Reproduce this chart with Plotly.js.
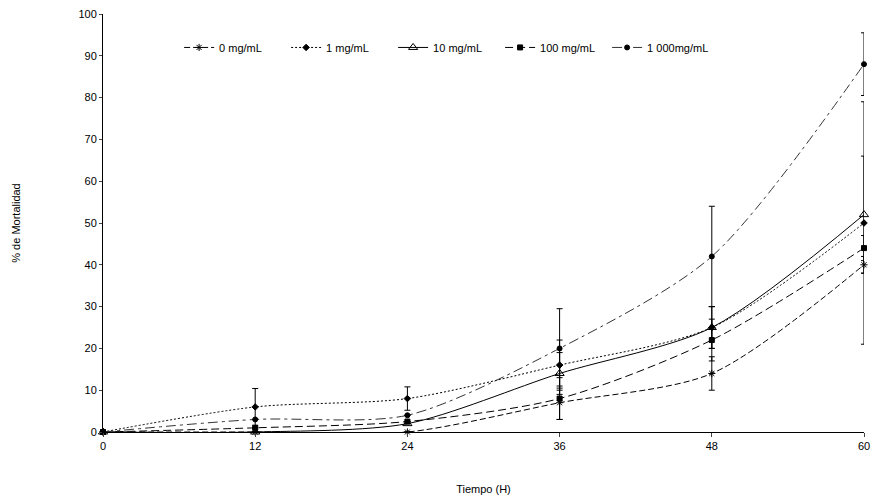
<!DOCTYPE html>
<html><head><meta charset="utf-8">
<script src="https://cdn.plot.ly/plotly-3.0.1.min.js"></script>
<style>html,body{margin:0;padding:0;background:#fff}#c{width:872px;height:496px}</style>
</head><body><div id="c"></div>
<script>
const hours = [0, 12, 24, 36, 48, 60];
const seriesNames = ["0 mg/mL", "1 mg/mL", "10 mg/mL", "100 mg/mL", "1 000mg/mL"];
const mort0 = [0, 0, 0, 7, 14, 40];
const mort1 = [0, 6, 8, 16, 25, 50];
const mort10 = [0, 0, 2, 14, 25, 52];
const mort100 = [0, 1, 2.5, 8, 22, 44];
const mort1000 = [0, 3, 4, 20, 42, 88];
const err0 = [0, 0, 0, 4, 4, 2];
const err1 = [0, 4.4, 2.8, 6, 5, 29];
const err10 = [0, 0, 0, 5, 5, 14];
const err100 = [0, 0, 0, 5, 5, 3];
const err1000 = [0, 0, 0, 9.5, 12, 7.5];

const styles = [
  {dash: "6px,3px", sym: "asterisk-open", size: 6},
  {dash: "2px,2px", sym: "diamond", size: 5},
  {dash: "solid", sym: "triangle-up-open", size: 8},
  {dash: "8px,4px", sym: "square", size: 5},
  {dash: "10px,4px,3px,4px", sym: "circle", size: 5}
];
const ys = [mort0, mort1, mort10, mort100, mort1000];
const es = [err0, err1, err10, err100, err1000];
const traces = ys.map((y, i) => ({
  x: hours, y: y, name: seriesNames[i], type: "scatter", mode: "lines+markers",
  line: {color: i === 4 ? "#333" : "#000", width: 1, dash: styles[i].dash, shape: "spline", smoothing: 0.8},
  marker: {symbol: styles[i].sym, size: styles[i].size, color: "#000", line: {color: "#000", width: 1}},
  error_y: {type: "data", array: es[i], visible: true, color: "#000", thickness: 1, width: 3},
  cliponaxis: false
}));
const fnt = {family: "Liberation Sans Narrow, Liberation Sans, Arial, sans-serif", size: 11, color: "#000"};
Plotly.newPlot("c", traces, {
  width: 872, height: 496,
  margin: {l: 103, r: 8, t: 14, b: 64},
  paper_bgcolor: "#fff", plot_bgcolor: "#fff",
  font: fnt,
  showlegend: true,
  legend: {orientation: "h", x: 0.1, y: 0.92, xanchor: "left", yanchor: "middle", font: fnt, bgcolor: "rgba(0,0,0,0)", entrywidth: 62, entrywidthmode: "pixels", traceorder: "normal"},
  xaxis: {range: [0, 60], tickvals: hours, ticks: "outside", ticklen: 4, showline: true, linecolor: "#000", linewidth: 1, showgrid: false, zeroline: false,
          title: {text: "Tiempo (H)", font: fnt, standoff: 34}, tickfont: fnt},
  yaxis: {range: [0, 100], dtick: 10, ticks: "outside", ticklen: 3, showline: true, linecolor: "#000", linewidth: 1, showgrid: false, zeroline: false,
          title: {text: "% de Mortalidad", font: fnt, standoff: 55}, tickfont: fnt}
}, {displayModeBar: false, staticPlot: true});
</script></body></html>
